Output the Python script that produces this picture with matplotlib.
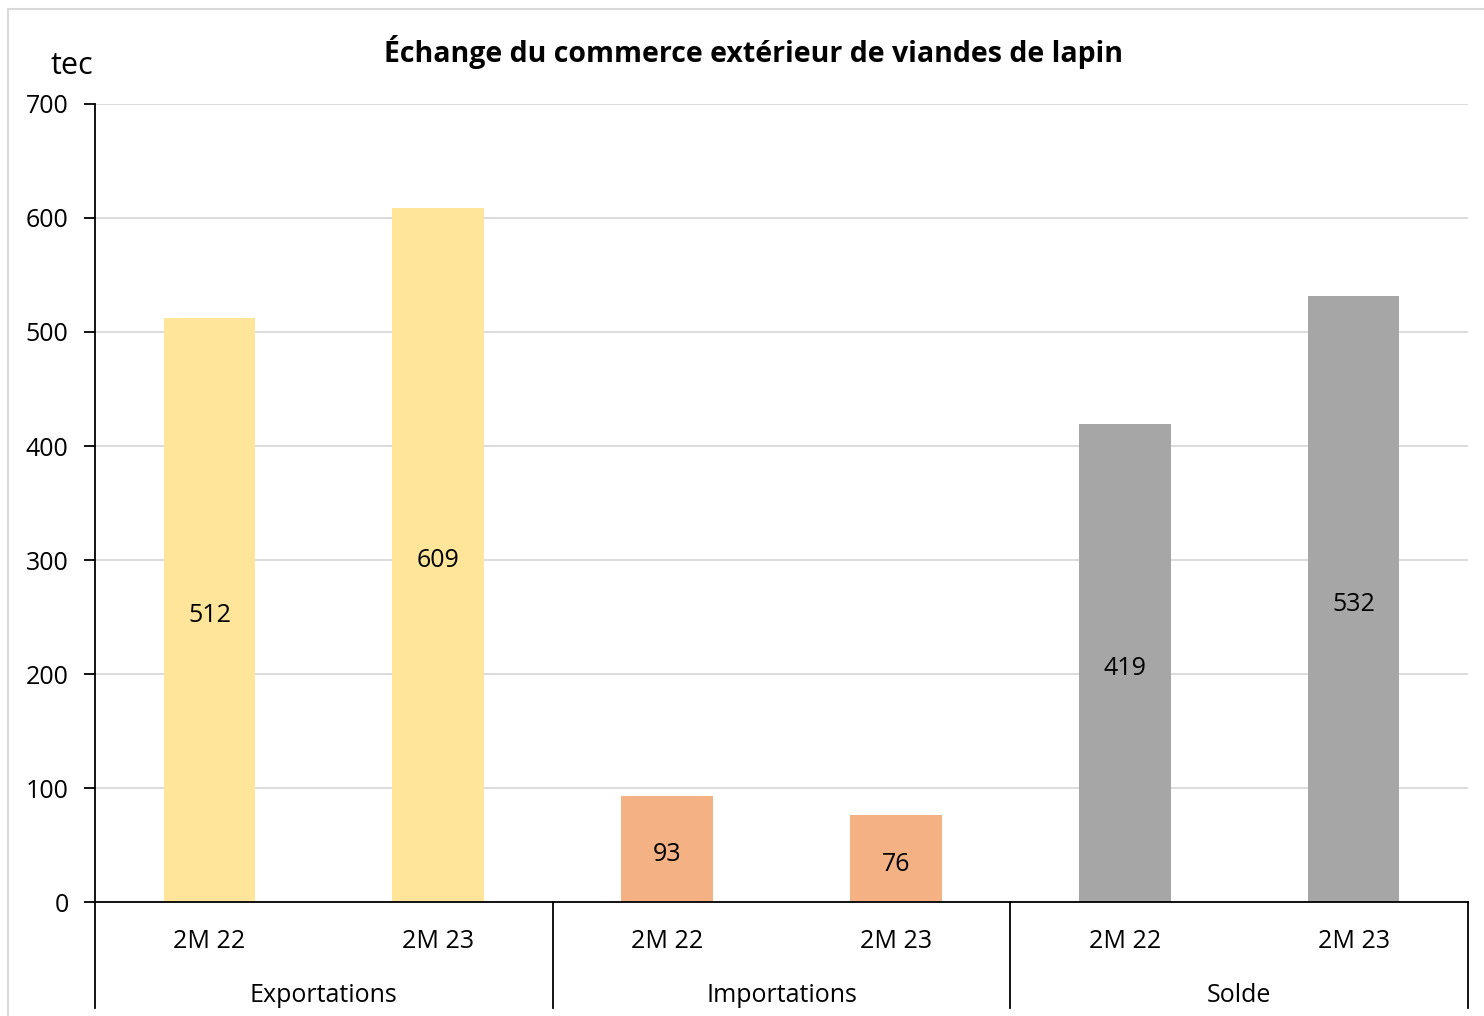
import matplotlib
matplotlib.use("Agg")
import matplotlib.pyplot as plt
from matplotlib.patches import Rectangle
import matplotlib.transforms as mtransforms

plt.rcParams['font.family'] = ['Open Sans', 'DejaVu Sans']

groups = ["Exportations", "Importations", "Solde"]
periods = ["2M 22", "2M 23"]
values = [512, 609, 93, 76, 419, 532]
group_colors = ["#FFE599", "#F4B183", "#A6A6A6"]
yticks = [0, 100, 200, 300, 400, 500, 600, 700]
title = "Échange du commerce extérieur de viandes de lapin"
unit = "tec"

fig = plt.figure(figsize=(14.84, 10.16), dpi=100)
fig.patches.append(Rectangle((8/1484, -0.1), 1.2, (1016-9)/1016 + 0.1, transform=fig.transFigure,
                             fill=False, edgecolor="#D9D9D9", linewidth=1.5))
ax = fig.add_axes([95/1484, 114/1016, (1468-95)/1484, (902-104)/1016])

FS = 18
n_per = len(periods)
xs = list(range(len(values)))
colors = [group_colors[i // n_per] for i in xs]
ax.bar(xs, values, width=0.40, color=colors, zorder=2)
for x, v in zip(xs, values):
    ax.annotate(str(v), (x, v / 2), xytext=(0, -2), textcoords="offset points",
                ha="center", va="center_baseline", fontsize=FS, color="black", zorder=3)

ax.set_xlim(-0.5, len(values) - 0.5)
ax.set_ylim(0, 700)
ax.set_yticks(yticks)
ax.set_yticklabels([str(t) for t in yticks], fontsize=FS)
ax.yaxis.grid(True, color="#D9D9D9", linewidth=1.3, zorder=0)
ax.set_axisbelow(True)
ax.tick_params(axis="y", length=8, width=1.3, pad=11, colors="black")
ax.tick_params(axis="x", length=0)
ax.set_xticks([])
for s in ["top", "right"]:
    ax.spines[s].set_visible(False)
ax.spines["left"].set_linewidth(1.3)
ax.spines["bottom"].set_linewidth(1.3)

trans = mtransforms.blended_transform_factory(ax.transData, ax.transAxes)
px = 1 / 798  # axes fraction per pixel in height
for x in xs:
    ax.text(x, -40 * px, periods[x % n_per], transform=trans, ha="center", va="center", fontsize=FS)
for g, name in enumerate(groups):
    center = g * n_per + (n_per - 1) / 2
    ax.text(center, -93 * px, name, transform=trans, ha="center", va="center", fontsize=FS)
for b in range(len(groups) + 1):
    xb = b * n_per - 0.5
    ax.plot([xb, xb], [0, -106 * px], transform=trans, color="black", linewidth=1.3, clip_on=False)

fig.text(754/1484, 1 - 52/1016, title, ha="center", va="center", fontsize=20.5, fontweight="bold")
fig.text(72/1484, 1 - 66/1016, unit, ha="center", va="center", fontsize=22)

fig.savefig("out.png", dpi=100)
